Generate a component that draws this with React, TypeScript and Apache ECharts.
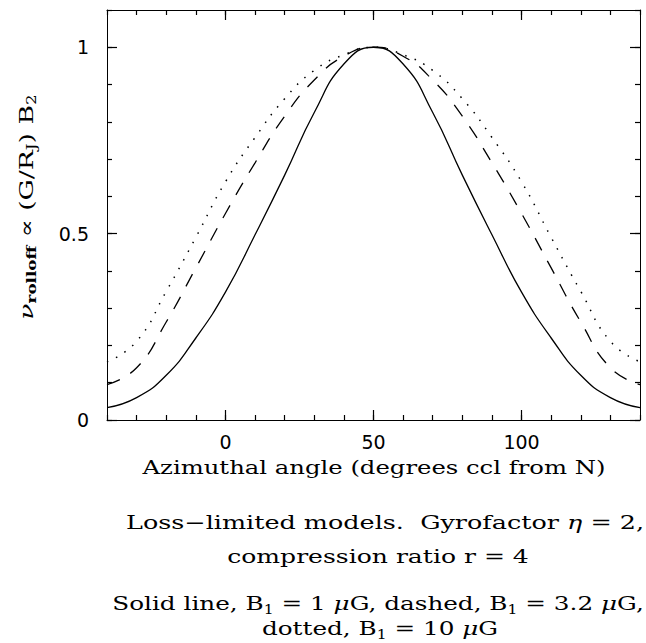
import React, { useEffect, useRef } from "react";
import * as echarts from "echarts";

const angles = [-40, -30, -20, -10, 0, 10, 20, 30, 40, 50, 60, 70, 80, 90, 100, 110, 120, 130, 140];
const solidB1 = [0.033, 0.06, 0.12, 0.22, 0.343, 0.497, 0.657, 0.825, 0.955, 1.0, 0.955, 0.825, 0.657, 0.497, 0.343, 0.22, 0.12, 0.06, 0.033];
const dashedB1 = [0.095, 0.14, 0.263, 0.408, 0.554, 0.69, 0.815, 0.912, 0.976, 1.0, 0.976, 0.912, 0.815, 0.69, 0.554, 0.408, 0.263, 0.14, 0.095];
const dottedB1 = [0.156, 0.211, 0.345, 0.49, 0.639, 0.758, 0.862, 0.938, 0.98, 1.0, 0.98, 0.938, 0.862, 0.758, 0.639, 0.49, 0.345, 0.211, 0.156];

const xMajorTicks = [0, 50, 100];
const yMajorTicks = [0, 0.5, 1];
const xMinorStep = 10;
const yMinorStep = 0.1;

const xTitle = "Azimuthal angle (degrees ccl from N)";
const yTitle = "{i|ν}{subb|rolloff} ∝ (G/R{sub|J}) B{sub|2}";
const captionLines = [
  "Loss\u2212limited models.  Gyrofactor {i|η} = 2,",
  "compression ratio r = 4",
  "Solid line, B{sub|1} = 1 {i|μ}G, dashed, B{sub|1} = 3.2 {i|μ}G,",
  "dotted, B{sub|1} = 10 {i|μ}G",
];

export default function App() {
  const ref = useRef<HTMLDivElement>(null);
  useEffect(() => {
    if (!ref.current) return;
    const chart = echarts.init(ref.current, null, { renderer: "svg" });
    const serif = "DejaVu Serif";
    const sans = "DejaVu Sans";
    const ink = "#000";
    const X_MIN = -40, X_MAX = 140, Y_MIN = 0, Y_MAX = 1.1;
    const FS = 19;

    const grids: any[] = [];
    const xAxes: any[] = [];
    const yAxes: any[] = [];
    const addGrid = () => {
      grids.push({ left: 107, right: 6, top: 10, bottom: 223, outerBoundsMode: "none" });
      return grids.length - 1;
    };
    const hidden = (g: number, min: number, max: number) => ({ type: "value", gridIndex: g, min, max, show: false });
    const tick = (len: number, custom?: number[]) => {
      const t: any = { show: true, inside: true, length: len, lineStyle: { color: ink, width: 1.2 } };
      if (custom) t.customValues = custom;
      return t;
    };
    const lbl = (margin: number, custom: number[]) => ({
      show: true, color: ink, fontFamily: sans, fontSize: 19, margin, customValues: custom,
    });

    // grid 0: the data
    const g0 = addGrid();
    xAxes.push(hidden(g0, X_MIN, X_MAX));
    yAxes.push(hidden(g0, Y_MIN, Y_MAX));

    // frame axes; the hidden partner axis puts its zero on the wanted edge
    const addXAxis = (pos: "bottom" | "top", major: boolean) => {
      const g = addGrid();
      const ax: any = {
        type: "value", gridIndex: g, min: X_MIN, max: X_MAX, position: pos,
        splitLine: { show: false },
        axisLine: { show: major, onZero: true, lineStyle: { color: ink, width: 1 } },
        axisTick: major ? tick(10, xMajorTicks) : tick(5),
        axisLabel: major && pos === "bottom" ? lbl(12, xMajorTicks) : { show: false },
      };
      if (!major) ax.interval = xMinorStep;
      xAxes.push(ax);
      yAxes.push(pos === "bottom" ? hidden(g, 0, 1) : hidden(g, -1, 0));
    };
    const addYAxis = (pos: "left" | "right", major: boolean) => {
      const g = addGrid();
      const ax: any = {
        type: "value", gridIndex: g, min: Y_MIN, max: Y_MAX, position: pos,
        splitLine: { show: false },
        axisLine: { show: major, onZero: true, lineStyle: { color: ink, width: 1 } },
        axisTick: major ? tick(10, yMajorTicks) : tick(5),
        axisLabel: major && pos === "left" ? lbl(18, yMajorTicks) : { show: false },
      };
      if (!major) ax.interval = yMinorStep;
      yAxes.push(ax);
      xAxes.push(pos === "left" ? hidden(g, 0, 1) : hidden(g, -1, 0));
    };
    addXAxis("bottom", true);
    addXAxis("bottom", false);
    addXAxis("top", true);
    addXAxis("top", false);
    addYAxis("left", true);
    addYAxis("left", false);
    addYAxis("right", true);
    addYAxis("right", false);

    const sub = { fontFamily: serif, fontSize: 12, padding: [11, 0, 0, 0], color: ink };
    const rich = {
      sub,
      subb: { ...sub, fontWeight: "bold" },
      i: { fontFamily: serif, fontSize: FS, fontStyle: "italic", color: ink },
    };
    const caption = (text: string, x: number, y: number, sx: number) => ({
      type: "text",
      x,
      y,
      scaleX: sx,
      style: { text, rich, fontFamily: serif, fontSize: FS, fill: ink, align: "center", verticalAlign: "middle" },
    });

    chart.setOption({
      animation: false,
      backgroundColor: "#fff",
      grid: grids,
      xAxis: xAxes,
      yAxis: yAxes,
      series: [
        {
          name: "B1 = 1 μG", type: "line", xAxisIndex: 0, yAxisIndex: 0, smooth: true, showSymbol: false,
          data: angles.map((a, i) => [a, solidB1[i]]),
          lineStyle: { color: ink, width: 1.3, type: "solid" },
        },
        {
          name: "B1 = 3.2 μG", type: "line", xAxisIndex: 0, yAxisIndex: 0, smooth: true, showSymbol: false,
          data: angles.map((a, i) => [a, dashedB1[i]]),
          lineStyle: { color: ink, width: 1.3, type: [14, 12] },
        },
        {
          name: "B1 = 10 μG", type: "line", xAxisIndex: 0, yAxisIndex: 0, smooth: true, showSymbol: false,
          data: angles.map((a, i) => [a, dottedB1[i]]),
          lineStyle: { color: ink, width: 1.5, type: [1.5, 8.5] },
        },
      ],
      graphic: [
        caption(xTitle, 374, 467, 1.28),
        caption(captionLines[0], 385, 522, 1.34),
        caption(captionLines[1], 378, 556, 1.32),
        caption(captionLines[2], 378, 604, 1.3),
        caption(captionLines[3], 380, 629, 1.3),
        {
          type: "text",
          x: 26,
          y: 207,
          rotation: Math.PI / 2,
          scaleX: 1.4,
          style: {
            text: yTitle,
            rich,
            fontFamily: serif,
            fontSize: FS,
            fill: ink,
            align: "center",
            verticalAlign: "middle",
          },
        },
      ],
    });
    return () => chart.dispose();
  }, []);
  return (
    <div
      ref={ref}
      style={{ position: "fixed", left: 0, top: 0, width: 646, height: 643, background: "#fff" }}
    />
  );
}
